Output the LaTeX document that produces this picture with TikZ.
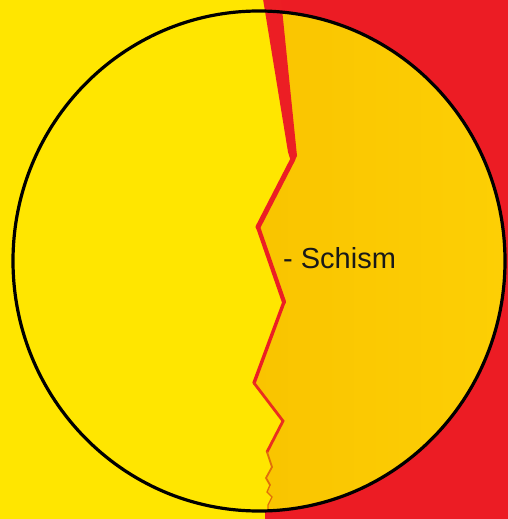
\documentclass[tikz,border=0pt]{standalone}
\usepackage{fontspec}
\setmainfont{Liberation Sans}
\definecolor{bgyellow}{RGB}{255,230,0}
\definecolor{bgred}{RGB}{236,28,36}
\definecolor{halfA}{RGB}{249,196,0}
\definecolor{halfB}{RGB}{253,208,5}
\definecolor{crackred}{RGB}{236,30,36}
\definecolor{crackorange}{RGB}{225,110,10}
\tikzset{
  crackline/.style={draw=crackred, line join=miter, line cap=round},
  rim/.style={draw=black, line width=3.2bp},
  lbl/.style={font=\fontsize{29bp}{32bp}\selectfont, text=black!90, inner sep=0pt, anchor=base west}
}
\begin{document}
\begin{tikzpicture}[x=1bp,y=-1bp]
\useasboundingbox (0,0) rectangle (508,519);
% background
\fill[bgyellow] (0,0) rectangle (265,519);
\fill[bgred] (265,0) rectangle (508,519);
% disc halves
\begin{scope}
\clip (259,261) ellipse [x radius=246, y radius=250];
\fill[bgyellow] (0,0) rectangle (300,519);
\shade[left color=halfA, right color=halfB]
  (272,-5) -- (292,160) -- (258,227) -- (284,302) -- (254,383) -- (283,421) -- (267,452)
  -- (272,467) -- (266,478) -- (270,485) -- (267,492) -- (272,497) -- (268,505) -- (268,520)
  -- (520,520) -- (520,-5) -- cycle;
\end{scope}
% crack
\fill[crackred] (263,-1) -- (281,-1) -- (297,156) -- (292,165) -- (288,152) -- cycle;
\coordinate (k1) at (293,159);
\coordinate (k2) at (258,227);
\coordinate (k3) at (284,302);
\coordinate (k4) at (254,383);
\coordinate (k5) at (283,421);
\coordinate (k6) at (267,452);
\coordinate (k7) at (272,467);
\coordinate (k8) at (266,478);
\coordinate (k9) at (270,485);
\coordinate (k10) at (267,492);
\coordinate (k11) at (272,497);
\coordinate (k12) at (268,505);
\coordinate (k13) at (268,511);
\draw[crackline, line width=5bp] (k1) -- (k2);
\draw[crackline, line width=4.2bp] (k2) -- (k3);
\draw[crackline, line width=3.4bp] (k3) -- (k4);
\draw[crackline, line width=2.8bp, draw=crackred!80!crackorange] (k4) -- (k5) -- (k6);
\draw[crackline, line width=1.8bp, draw=crackorange] (k6) -- (k7) -- (k8) -- (k9);
\draw[crackline, line width=1.3bp, draw=crackorange] (k9) -- (k10) -- (k11) -- (k12) -- (k13);
% rim
\draw[rim] (259,261) ellipse [x radius=246, y radius=250];
% label
\node[lbl] (schism) at (283,268) {- Schism};
\end{tikzpicture}
\end{document}
